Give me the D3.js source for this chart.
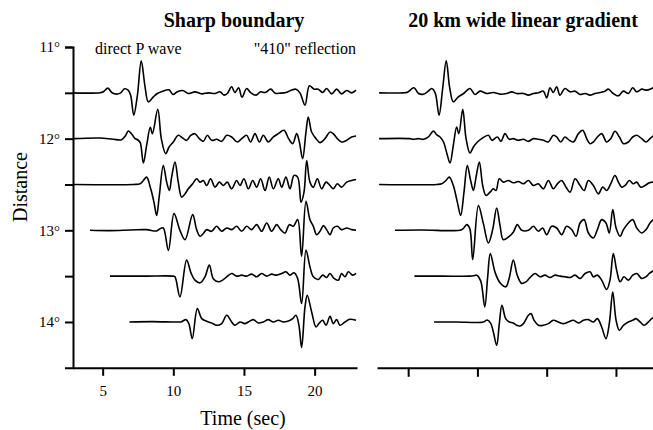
<!DOCTYPE html>
<html>
<head>
<meta charset="utf-8">
<script src="https://cdn.jsdelivr.net/npm/d3@7"></script>
<style>
body { margin: 0; background: #fff; }
text { font-family: "Liberation Serif", "DejaVu Serif", serif; fill: #000; }
</style>
</head>
<body>
<div id="chart"></div>
<script>
// distances (deg) of the six seismograms, top to bottom
var distances = [11.5, 12, 12.5, 13, 13.5, 14];
var yTicks = [11, 11.5, 12, 12.5, 13, 13.5, 14];
var xTicks = [5, 10, 15, 20];
var panelTitles = ["Sharp boundary", "20 km wide linear gradient"];

// traces: [time (sec), normalized amplitude]
var sharp115 = [[2.9,0],[4.81,0],[5.05,0.03],[5.37,0.14],[5.64,0.01],[5.99,-0.04],[6.27,0],[6.55,0.12],[6.8,0.08],[6.98,-0.07],[7.20,-0.67],[7.46,-0.07],[7.73,0.96],[8.0,0.18],[8.23,-0.27],[8.59,-0.12],[8.87,-0.02],[9.25,0.05],[9.70,0.09],[9.98,-0.05],[10.28,0.03],[10.66,0.07],[11.06,-0.02],[11.53,0.03],[12.01,-0.03],[12.48,0],[12.95,-0.02],[13.30,0.03],[13.59,-0.07],[13.82,-0.02],[14.13,0.18],[14.36,0.01],[14.62,0.15],[14.86,-0.13],[15.19,0.13],[15.47,0.01],[15.85,-0.07],[16.18,0.03],[16.51,0.01],[16.89,0.11],[17.22,-0.01],[17.60,-0.01],[17.97,0.01],[18.30,0.07],[18.68,0.11],[18.97,-0.01],[19.32,-0.37],[19.63,0.21],[19.96,0.11],[20.26,0.11],[20.57,0.01],[20.85,0.13],[21.21,-0.03],[21.56,0.11],[21.91,-0.03],[22.27,0.07],[22.62,0],[22.93,0.08]];
var sharp120 = [[2.9,0],[4.81,0.02],[5.75,-0.02],[6.34,-0.03],[6.60,0.08],[6.82,0.23],[7.05,0.14],[7.30,0],[7.50,-0.04],[7.66,-0.12],[7.88,-0.73],[8.12,-0.18],[8.37,0.34],[8.52,0.15],[8.90,0.88],[9.15,0],[9.46,-0.45],[9.70,-0.25],[10.00,-0.10],[10.35,0.10],[10.66,0.02],[10.94,-0.05],[11.23,0.10],[11.53,0.15],[11.84,0],[12.12,-0.08],[12.41,0.10],[12.71,-0.05],[13.07,-0.02],[13.42,-0.08],[13.78,0.10],[14.13,0.05],[14.53,-0.10],[14.84,0],[15.19,0.10],[15.47,-0.10],[15.78,0.15],[16.09,-0.10],[16.37,0.10],[16.72,-0.10],[17.08,0.05],[17.43,0.15],[17.83,0.25],[18.16,0],[18.45,-0.15],[18.73,0.15],[18.92,-0.10],[19.15,-0.60],[19.39,0.20],[19.55,0.65],[19.79,0.20],[20.10,0],[20.38,-0.12],[20.73,0],[21.09,0.20],[21.32,0.15],[21.61,0],[21.91,-0.10],[22.27,-0.05],[22.62,0.05],[22.93,0.08]];
var sharp125 = [[2.9,0],[7.17,0],[7.64,0.02],[7.88,0.12],[8.11,0.22],[8.40,-0.13],[8.63,-0.53],[8.82,-0.93],[9.01,-0.33],[9.29,0.57],[9.53,0.07],[9.72,-0.18],[9.88,0.22],[10.12,0.67],[10.35,0.07],[10.59,-0.38],[10.83,-0.28],[11.06,-0.13],[11.37,0.02],[11.65,0.17],[11.89,0.07],[12.12,0.12],[12.36,-0.03],[12.64,0.17],[12.95,-0.08],[13.26,0.07],[13.54,-0.03],[13.82,0.07],[14.13,-0.13],[14.48,0.12],[14.72,-0.03],[15.00,0.17],[15.31,-0.13],[15.62,0.12],[15.90,-0.08],[16.18,0.17],[16.49,-0.18],[16.79,0.22],[17.08,-0.13],[17.43,0.17],[17.67,-0.08],[17.97,0.22],[18.26,-0.13],[18.54,0.27],[18.80,0.22],[19.04,-0.53],[19.25,-0.23],[19.44,0.72],[19.67,0.07],[19.91,-0.08],[20.19,0.17],[20.50,-0.13],[20.81,0.07],[21.09,-0.03],[21.32,-0.13],[21.61,0.02],[21.91,-0.08],[22.27,0.07],[22.62,0.12],[22.93,0.15]];
var sharp130 = [[4.10,0],[5.5,-0.01],[7.0,0.01],[8.11,0.02],[8.82,-0.02],[9.06,0.05],[9.29,0.07],[9.65,-0.60],[10.05,0.50],[10.47,0.0],[10.83,-0.28],[11.37,0.47],[11.65,0.02],[11.89,-0.18],[12.15,-0.08],[12.36,0.02],[12.71,-0.03],[13.07,0.12],[13.42,-0.03],[13.78,0.07],[14.13,0.02],[14.48,0.12],[14.84,-0.03],[15.19,0.12],[15.54,0.02],[15.90,0.17],[16.25,-0.03],[16.61,0.22],[16.96,-0.03],[17.31,0.17],[17.60,0.02],[17.90,-0.08],[18.21,0.17],[18.49,0.12],[18.80,0.32],[19.08,-0.78],[19.39,0.87],[19.67,0.32],[19.91,0.12],[20.14,-0.13],[20.38,-0.03],[20.62,0.14],[20.85,0.02],[21.09,-0.13],[21.32,0.07],[21.61,0.12],[21.91,0.02],[22.27,0.07],[22.62,0.02],[22.93,0]];
var sharp135 = [[5.52,0],[8.0,0],[10.00,0],[10.12,-0.02],[10.47,-0.62],[10.94,0.48],[11.25,0.10],[11.53,-0.12],[11.89,-0.20],[12.24,-0.02],[12.55,0.33],[12.83,-0.08],[13.19,-0.17],[13.49,-0.12],[13.78,-0.02],[14.13,0.08],[14.48,0],[14.84,0.03],[15.19,0],[15.54,0.06],[15.90,-0.02],[16.25,0.08],[16.61,0],[16.96,0.06],[17.31,0.03],[17.67,0.08],[17.97,0.13],[18.26,0.03],[18.54,0.10],[18.80,-0.07],[19.08,-0.82],[19.39,0.78],[19.67,0.28],[19.91,-0.02],[20.26,-0.10],[20.57,0.03],[20.85,-0.04],[21.09,0.08],[21.37,-0.07],[21.68,-0.12],[21.91,0.08],[22.15,-0.02],[22.39,0.13],[22.69,0.03],[22.93,0.08]];
var sharp140 = [[6.89,0],[8.5,0.01],[10.47,0],[10.59,0.01],[10.90,0.07],[11.10,-0.05],[11.34,-0.50],[11.70,0.40],[12.01,0.10],[12.36,0.02],[12.71,-0.03],[13.07,-0.10],[13.42,-0.05],[13.78,0.20],[14.13,0],[14.36,-0.10],[14.72,0],[15.07,-0.05],[15.43,0.03],[15.66,0.07],[16.02,-0.03],[16.37,0],[16.72,0.07],[17.08,0],[17.43,0.05],[17.79,0],[18.14,0.03],[18.45,0.10],[18.68,0.20],[18.89,-0.10],[19.08,-0.77],[19.32,0.45],[19.48,0.80],[19.79,0.30],[20.10,-0.15],[20.33,-0.03],[20.57,0.05],[20.81,-0.10],[21.09,0.17],[21.32,-0.05],[21.56,0.07],[21.80,-0.10],[22.15,0],[22.50,0.08],[22.93,0.05]];

var grad115 = [[2.9,0],[4.65,0],[4.95,0.02],[5.42,0.15],[5.75,-0.02],[6.10,-0.04],[6.45,0.05],[6.70,0.13],[6.95,0],[7.23,-0.67],[7.49,0.13],[7.75,0.96],[8.0,0.15],[8.26,-0.27],[8.62,-0.12],[9.0,-0.02],[9.46,0.13],[9.83,-0.05],[10.19,0.05],[10.67,-0.02],[11.15,0.01],[11.63,-0.04],[12.11,-0.02],[12.47,0.03],[12.83,-0.02],[13.32,-0.02],[13.68,-0.07],[14.04,-0.02],[14.40,0],[14.76,0.05],[15.00,-0.15],[15.24,0.15],[15.48,0.01],[15.72,0.18],[15.96,-0.07],[16.32,0.13],[16.69,0.03],[17.05,0.05],[17.41,-0.05],[17.77,-0.02],[18.13,-0.07],[18.49,-0.02],[18.85,0.01],[19.21,0.05],[19.45,0.11],[19.81,-0.02],[20.17,-0.09],[20.54,0.05],[20.90,-0.02],[21.21,0.15],[21.50,0.03],[21.86,0.11],[22.22,0.08],[22.58,0.13],[22.70,0.15]];
var grad120 = [[2.9,0],[5.13,0],[5.37,-0.02],[5.73,0],[6.10,-0.02],[6.46,0.05],[6.82,0.23],[7.05,0.12],[7.30,0.05],[7.55,-0.10],[7.80,-0.45],[8.02,-0.73],[8.26,-0.20],[8.50,0.35],[8.66,0.15],[8.94,0.88],[9.18,0],[9.46,-0.43],[9.71,-0.25],[10.00,-0.10],[10.31,0],[10.79,0.10],[11.05,-0.05],[11.44,0.05],[11.70,-0.08],[11.99,0.15],[12.30,-0.02],[12.59,0],[12.95,-0.05],[13.32,-0.02],[13.68,-0.08],[14.04,0],[14.40,-0.02],[14.76,-0.05],[15.12,-0.10],[15.48,0.10],[15.72,0.05],[16.01,-0.10],[16.32,0.05],[16.64,-0.05],[16.93,-0.10],[17.29,0.15],[17.60,0.25],[17.89,0],[18.13,-0.15],[18.37,-0.10],[18.66,0.05],[18.97,0.15],[19.33,-0.10],[19.62,0],[19.93,0.22],[20.25,0.05],[20.54,-0.15],[20.90,-0.10],[21.21,0.05],[21.50,0.10],[21.86,0],[22.17,-0.10],[22.46,0],[22.70,0.08]];
var grad125 = [[2.9,0],[7.06,0],[7.42,0.02],[7.73,0.12],[7.97,0.22],[8.26,-0.03],[8.55,-0.53],[8.79,-0.93],[9.03,-0.23],[9.27,0.57],[9.51,0.12],[9.71,-0.18],[9.90,0.22],[10.14,0.67],[10.38,-0.03],[10.62,-0.33],[10.91,-0.23],[11.15,-0.13],[11.34,-0.18],[11.58,0.17],[11.87,0.07],[12.23,0.12],[12.59,0.05],[12.95,0.09],[13.32,0.02],[13.68,0.12],[14.04,-0.03],[14.40,0.02],[14.76,-0.13],[15.12,0.12],[15.48,-0.13],[15.77,0.02],[16.08,0.12],[16.40,-0.08],[16.69,-0.23],[17.05,0.17],[17.41,-0.03],[17.70,-0.18],[18.01,0.12],[18.37,-0.03],[18.73,-0.28],[19.04,-0.08],[19.33,-0.18],[19.62,0.02],[19.93,0.27],[20.18,0.07],[20.42,-0.08],[20.66,-0.03],[20.97,0.12],[21.26,0.02],[21.50,0.07],[21.79,-0.08],[22.10,-0.03],[22.41,0.05],[22.70,0.07]];
var grad130 = [[4.05,0],[6.0,0.01],[8.0,-0.01],[8.74,0],[8.95,0.04],[9.23,0.17],[9.45,0.05],[9.66,-0.88],[10.07,0.74],[10.43,0.20],[10.79,-0.38],[11.10,0.02],[11.39,0.67],[11.63,0.15],[11.87,-0.28],[12.30,-0.18],[12.60,-0.05],[12.88,0.17],[13.20,0],[13.68,0],[14.04,0.12],[14.40,-0.03],[14.71,0.07],[15.00,-0.13],[15.36,0.12],[15.72,0.07],[16.08,-0.13],[16.44,0.12],[16.81,0.02],[17.12,-0.18],[17.41,0.22],[17.70,0.32],[18.01,-0.08],[18.37,-0.23],[18.66,0.02],[18.97,0.32],[19.28,0.22],[19.52,-0.08],[19.77,0.62],[20.01,0.07],[20.30,-0.18],[20.54,0.02],[20.90,0.22],[21.21,0.32],[21.50,0.07],[21.86,-0.08],[22.17,0.02],[22.46,0.22],[22.70,0.32]];
var grad135 = [[5.45,0],[7.5,0],[9.46,0],[9.71,0.01],[9.95,0.03],[10.24,-0.15],[10.53,-0.92],[10.74,-0.02],[10.93,0.68],[11.27,0.12],[11.63,-0.20],[12.05,-0.32],[12.30,-0.05],[12.59,0.48],[12.88,0.02],[13.20,-0.22],[13.51,-0.17],[13.80,-0.04],[14.16,0.08],[14.52,-0.02],[14.88,0.03],[15.24,-0.04],[15.60,0.03],[15.96,0],[16.32,-0.02],[16.69,-0.04],[17.05,0.03],[17.41,-0.07],[17.77,0.08],[18.13,0.13],[18.37,-0.02],[18.66,0.03],[18.97,-0.12],[19.33,-0.40],[19.57,-0.12],[19.81,0.68],[20.05,0.18],[20.30,-0.17],[20.58,-0.02],[20.90,-0.12],[21.21,0.03],[21.50,0.08],[21.86,-0.07],[22.17,-0.02],[22.41,0.08],[22.70,0.16]];
var grad140 = [[6.87,0],[8.5,0],[10.43,0],[10.70,0.06],[10.96,-0.04],[11.15,-0.30],[11.39,-0.70],[11.58,-0.05],[11.77,0.50],[12.04,0.10],[12.30,0],[12.59,-0.03],[12.83,-0.10],[13.08,-0.12],[13.32,-0.05],[13.68,0.20],[13.87,0.25],[14.09,0.05],[14.40,-0.10],[14.76,-0.10],[15.12,-0.05],[15.48,0.05],[15.84,0],[16.20,-0.05],[16.56,0],[16.93,0.05],[17.29,-0.03],[17.65,0.05],[18.01,0.07],[18.37,0],[18.66,0.10],[18.97,-0.15],[19.28,-0.50],[19.52,-0.05],[19.77,0.90],[20.01,0.05],[20.25,-0.25],[20.54,-0.10],[20.90,0],[21.21,0.05],[21.45,0.10],[21.74,0],[22.03,-0.10],[22.34,0],[22.58,0.10],[22.70,0.13]];

var sharpTraces = [sharp115, sharp120, sharp125, sharp130, sharp135, sharp140];
var gradTraces = [grad115, grad120, grad125, grad130, grad135, grad140];

var svgWidth = 653;
var svgHeight = 430;

var svg = d3.select("#chart")
    .append("svg")
    .attr("width", svgWidth)
    .attr("height", svgHeight);

var yScale = d3.scaleLinear().domain([11, 14.5]).range([47, 367.8]);
var xLeft = d3.scaleLinear().domain([2.9, 23]).range([73, 357]);
var xRight = d3.scaleLinear().domain([2.75, 23]).range([377, 657.5]);
// one amplitude unit expressed in degrees of distance
var ampScale = d3.scaleLinear().domain([0, 1]).range([0, 0.364]);

function drawTraces(traces, xScale) {
    traces.forEach(function(trace, i) {
        var dist = distances[i];
        var line = d3.line()
            .x(d => xScale(d[0]))
            .y(d => yScale(dist - ampScale(d[1])))
            .curve(d3.curveCatmullRom.alpha(0.5));
        svg.append("path")
            .datum(trace)
            .attr("d", line)
            .attr("fill", "none")
            .attr("stroke", "#000")
            .attr("stroke-width", 1.6)
            .attr("stroke-linejoin", "round");
    });
}

drawTraces(sharpTraces, xLeft);
drawTraces(gradTraces, xRight);

// left y axis
var leftAxis = d3.axisLeft(yScale)
    .tickValues(yTicks)
    .tickSize(8)
    .tickSizeOuter(8)
    .tickPadding(5)
    .tickFormat(d => Number.isInteger(d) ? d + "°" : "");

var yAxisG = svg.append("g")
    .attr("transform", `translate(${xLeft.range()[0]},0)`)
    .call(leftAxis);

// bottom axes
var bottomAxis = d3.axisBottom(xLeft)
    .tickValues(xTicks)
    .tickSize(8)
    .tickSizeOuter(0)
    .tickPadding(10);

var xAxisG = svg.append("g")
    .attr("transform", `translate(0,${yScale.range()[1]})`)
    .call(bottomAxis);

var rightAxis = d3.axisBottom(xRight)
    .tickValues(xTicks)
    .tickSize(9)
    .tickSizeOuter(0)
    .tickFormat("");

var xAxisRG = svg.append("g")
    .attr("transform", `translate(0,${yScale.range()[1]})`)
    .call(rightAxis);

[yAxisG, xAxisG, xAxisRG].forEach(function(g) {
    g.selectAll("path, line").attr("stroke", "#000").attr("stroke-width", 2);
    g.selectAll("text")
        .style("font-family", '"Liberation Serif", serif')
        .style("font-size", "15px")
        .attr("fill", "#000");
});

// panel titles
svg.append("text")
    .attr("x", 234)
    .attr("y", 27)
    .attr("text-anchor", "middle")
    .style("font-size", "20px")
    .style("font-weight", "bold")
    .text(panelTitles[0]);

svg.append("text")
    .attr("x", 523)
    .attr("y", 27)
    .attr("text-anchor", "middle")
    .style("font-size", "20px")
    .style("font-weight", "bold")
    .text(panelTitles[1]);

// annotations
svg.append("text")
    .attr("x", 95)
    .attr("y", 54)
    .style("font-size", "16px")
    .text("direct P wave");

svg.append("text")
    .attr("x", 356)
    .attr("y", 54)
    .attr("text-anchor", "end")
    .style("font-size", "16px")
    .text("\"410\" reflection");

// axis labels
svg.append("text")
    .attr("x", 243)
    .attr("y", 425)
    .attr("text-anchor", "middle")
    .style("font-size", "20px")
    .text("Time (sec)");

svg.append("text")
    .attr("transform", "translate(27,187) rotate(-90)")
    .attr("text-anchor", "middle")
    .style("font-size", "20px")
    .text("Distance");
</script>
</body>
</html>
